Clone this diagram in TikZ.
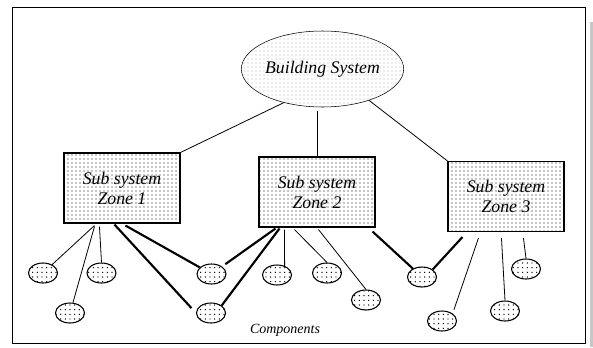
\documentclass[tikz,border=0pt]{standalone}
\usepackage{fontspec}
\setmainfont{Liberation Serif}
\usepackage{tikz}
\usetikzlibrary{calc, shapes.geometric, patterns}

\pgfdeclarepatternformonly{sparse dots}{\pgfqpoint{-1pt}{-1pt}}{\pgfqpoint{1pt}{1pt}}{\pgfqpoint{3.5pt}{3.5pt}}{%
	\pgfpathcircle{\pgfqpoint{0pt}{0pt}}{.55pt}\pgfusepath{fill}}

\tikzset{
	line width = .6pt,
	font = \fontsize{13.3}{15}\selectfont\itshape,
	system/.style={
		draw,
		ellipse,
		pattern=dots,
		pattern color=black!30,
		minimum width=105.75pt,
		minimum height=57pt,
		inner sep=0pt
	},
	zone/.style={
		draw,
		rectangle,
		line width=.8pt,
		pattern=dots,
		align=center,
		minimum width=87pt,
		minimum height=52.5pt,
		inner sep=0pt
	},
	part/.style={
		draw,
		ellipse,
		line width=.8pt,
		pattern=sparse dots,
		minimum width=21.75pt,
		minimum height=15pt,
		inner sep=0pt
	},
	link/.style={
		line width=.6pt
	},
	bus/.style={
		line width=1.6pt
	}
}

\begin{document}
\begin{tikzpicture}[x=.75pt, y=-.75pt]
	\useasboundingbox (0,0) rectangle (593,347);
	\draw[line width=.8pt] (12.7,7.3) rectangle (585.7,343.3);
	\fill[black!22] (590,22) rectangle (593,347);

	\node[system] at (322.5,69) (sys) {Building System};
	\node[zone] at (122,188) (z1) {Sub system\\Zone 1};
	\node[zone] at (317,192) (z2) {Sub system\\Zone 2};
	\node[zone] at (506,196.5) (z3) {Sub system\\Zone 3};

	\node[part] at (43,273) (c1) {};
	\node[part] at (101.5,273) (c2) {};
	\node[part] at (70,313) (c3) {};
	\node[part] at (211.5,274) (c4) {};
	\node[part] at (211,313) (c5) {};
	\node[part] at (277,275) (c6) {};
	\node[part] at (327,273) (c7) {};
	\node[part] at (366,300) (c8) {};
	\node[part] at (422,277) (c9) {};
	\node[part] at (442,321) (c10) {};
	\node[part] at (505,311) (c11) {};
	\node[part] at (526,269) (c12) {};
	\node[font=\fontsize{10.5}{12}\selectfont\itshape] at (285,330) (comp) {Components};

	\draw[link] (sys.221) -- (z1.north east);
	\draw[link, shorten <=3pt] (z2.north |- sys.south) -- (z2.north);
	\draw[link] (sys.326) -- (z3.north west);

	\draw[link] ($(z1.south west)+(31,2)$) -- (c1);
	\draw[link] ($(z1.south west)+(31,3)$) -- (c3);
	\draw[link] ($(z1.south west)+(36,3)$) -- (c2.north);
	\draw[bus, shorten >=5pt] ($(z1.south west)+(51,1)$) -- (c5.west);
	\draw[bus] ($(z1.south west)+(62,2)$) -- (c4);

	\draw[bus, shorten >=3pt] ($(z2.south west)+(17,1)$) -- (c4);
	\draw[bus] ($(z2.south west)+(21,1)$) -- (c5.north east);
	\draw[link] ($(z2.south west)+(26,2)$) -- (c6.50);
	\draw[link] ($(z2.south west)+(36,2)$) -- (c7.north);
	\draw[link] ($(z2.south west)+(60,2)$) -- (c8.north);
	\draw[bus] ($(z2.south east)+(-3,4)$) -- (c9);

	\draw[bus] ($(z3.south west)+(15,5)$) -- (c9.north east);
	\draw[link, shorten >=3pt] ($(z3.south west)+(31,6)$) -- (c10.north east);
	\draw[link] ($(z3.south west)+(54,6)$) -- (c11.north);
	\draw[link] ($(z3.south west)+(76,6)$) -- (c12.north);
\end{tikzpicture}
\end{document}
